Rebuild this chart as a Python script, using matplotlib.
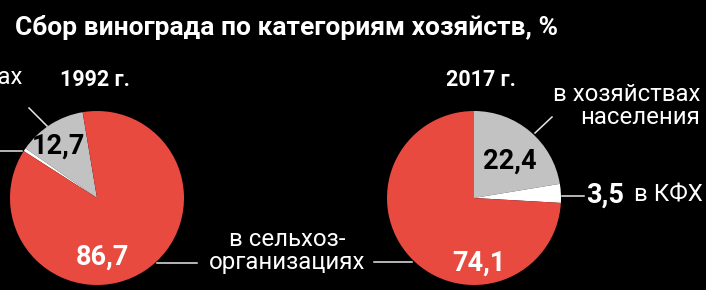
import matplotlib
matplotlib.use("Agg")
import matplotlib.pyplot as plt

plt.rcParams['font.family'] = ['Roboto', 'DejaVu Sans']

# данные
years = ['1992 г.', '2017 г.']
categories = ['в хозяйствах населения', 'в КФХ', 'в сельхоз-организациях']
share_1992 = [12.7, 0.6, 86.7]
share_2017 = [22.4, 3.5, 74.1]
colors = ['#c2c2c2', '#ffffff', '#e84a40']

W, H = 706, 290
fig = plt.figure(figsize=(W / 100, H / 100), dpi=100, facecolor='black')
ax = fig.add_axes([0, 0, 1, 1])
ax.set_facecolor('black')


def fy(py):
    # пиксель сверху -> координата по y
    return H - py


def fmt(v):
    return f"{v:.1f}".replace('.', ',')


ax.pie(share_1992, colors=colors, radius=87, center=(97, fy(198)),
       startangle=99.5, counterclock=True, wedgeprops=dict(linewidth=0))
ax.pie(share_2017, colors=colors, radius=87, center=(474, fy(198)),
       startangle=90, counterclock=False, wedgeprops=dict(linewidth=0))

ax.set_xlim(0, W)
ax.set_ylim(0, H)
ax.set_aspect('equal')
ax.axis('off')

lab = 17.3   # обычные подписи
num = 19.5   # числа

# заголовок
ax.text(15, fy(27), 'Сбор винограда по категориям хозяйств, %', color='white',
        fontsize=19, fontweight='bold', ha='left', va='center')

ax.text(95, fy(80), years[0], color='white', fontsize=15.5, fontweight='bold',
        ha='center', va='center')
ax.text(481, fy(80), years[1], color='white', fontsize=15.5, fontweight='bold',
        ha='center', va='center')

# значения внутри
ax.text(58, fy(146), fmt(share_1992[0]), color='black', fontsize=num,
        fontweight='bold', ha='center', va='center')
ax.text(102, fy(257), fmt(share_1992[2]), color='white', fontsize=num,
        fontweight='bold', ha='center', va='center')
ax.text(510, fy(161), fmt(share_2017[0]), color='black', fontsize=num,
        fontweight='bold', ha='center', va='center')
ax.text(479, fy(263), fmt(share_2017[2]), color='white', fontsize=num,
        fontweight='bold', ha='center', va='center')

# подписи категорий
ax.text(22, fy(77), 'в хозяйствах', color='white', fontsize=lab,
        ha='right', va='center')
ax.text(700, fy(106), 'в хозяйствах\nнаселения', color='white', fontsize=lab,
        ha='right', va='center', multialignment='right', linespacing=0.98)
ax.text(287, fy(251), 'в сельхоз-\nорганизациях', color='white', fontsize=lab,
        ha='center', va='center', multialignment='center', linespacing=0.98)
ax.text(605, fy(195), fmt(share_2017[1]), color='white', fontsize=num,
        fontweight='bold', ha='center', va='center')
ax.text(634, fy(195), 'в КФХ', color='white', fontsize=lab,
        ha='left', va='center')

# линии-выноски
lc = '#e6e6e6'
for (x0, y0, x1, y1) in [(29, 108, 47, 126), (0, 151, 22, 151),
                         (157, 263, 197, 263), (374, 262, 412, 262),
                         (535, 133, 552, 117), (562, 196, 584, 196)]:
    ax.plot([x0, x1], [fy(y0), fy(y1)], color=lc, lw=1.1)

fig.savefig('out.png', dpi=100, facecolor='black')
